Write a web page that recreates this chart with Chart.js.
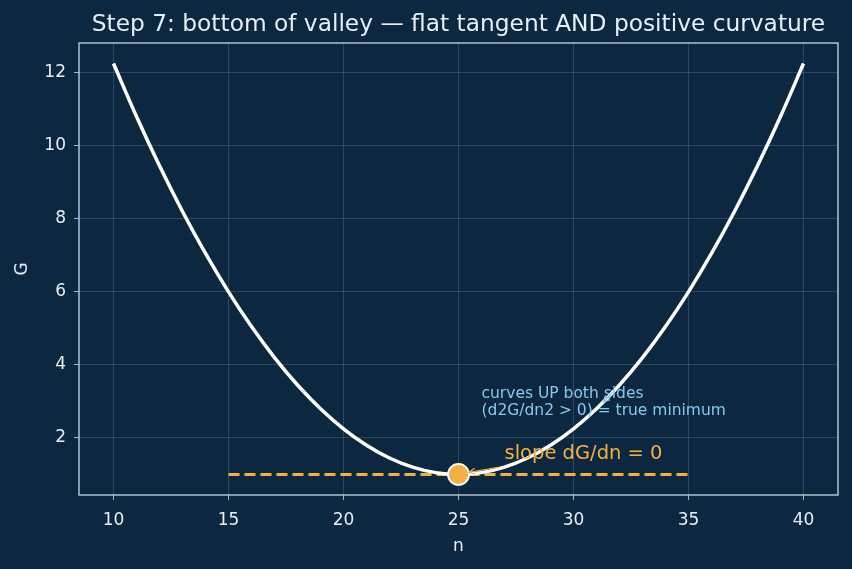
<!DOCTYPE html>
<html>
<head>
<meta charset="utf-8">
<script src="https://cdn.jsdelivr.net/npm/chart.js@4/dist/chart.umd.min.js"></script>
<style>
  html, body { margin: 0; padding: 0; background: #0c2841; }
  #wrap { width: 852px; height: 569px; }
</style>
</head>
<body>
<div id="wrap"><canvas id="valleyChart" width="852" height="569"></canvas></div>
<script>
// values
const nValues = [10, 11, 12, 13, 14, 15, 16, 17, 18, 19, 20, 21, 22, 23, 24, 25,
                 26, 27, 28, 29, 30, 31, 32, 33, 34, 35, 36, 37, 38, 39, 40];
const gValues = [12.25, 10.8, 9.45, 8.2, 7.05, 6.0, 5.05, 4.2, 3.45, 2.8, 2.25, 1.8, 1.45, 1.2, 1.05, 1.0,
                 1.05, 1.2, 1.45, 1.8, 2.25, 2.8, 3.45, 4.2, 5.05, 6.0, 7.05, 8.2, 9.45, 10.8, 12.25];
const tangentN = [15, 35];
const tangentG = [1, 1];
const minN = 25;
const minG = 1;
const xTicks = [10, 15, 20, 25, 30, 35, 40];
const yTicks = [2, 4, 6, 8, 10, 12];

const TITLE = "Step 7: bottom of valley \u2014 flat tangent AND positive curvature";
const FONT = "DejaVu Sans";
const TEXT = '#e8eef4';
const ORANGE = '#f5b043';
const BLUE = '#86c9ee';
const GRID = 'rgba(150, 185, 215, 0.28)';

function arrow(ctx, x1, y1, x2, y2, color) {
  const a = Math.atan2(y2 - y1, x2 - x1);
  ctx.save();
  ctx.strokeStyle = color;
  ctx.lineWidth = 1.2;
  ctx.beginPath();
  ctx.moveTo(x1, y1);
  ctx.lineTo(x2, y2);
  ctx.moveTo(x2 - 7 * Math.cos(a - 0.45), y2 - 7 * Math.sin(a - 0.45));
  ctx.lineTo(x2, y2);
  ctx.lineTo(x2 - 7 * Math.cos(a + 0.45), y2 - 7 * Math.sin(a + 0.45));
  ctx.stroke();
  ctx.restore();
}

// title, frame and the two notes
const decorations = {
  id: 'decorations',
  afterDatasetsDraw(chart) {
    const { ctx, chartArea: ca, scales: { x, y } } = chart;
    ctx.save();
    ctx.fillStyle = TEXT;
    ctx.font = `23.3px "${FONT}"`;
    ctx.textAlign = 'center';
    ctx.textBaseline = 'middle';
    ctx.fillText(TITLE, (ca.left + ca.right) / 2, 25);

    ctx.strokeStyle = '#c9d7e4';
    ctx.lineWidth = 1.3;
    ctx.strokeRect(ca.left, ca.top, ca.right - ca.left, ca.bottom - ca.top);

    arrow(ctx, x.getPixelForValue(31.7), y.getPixelForValue(3.25),
               x.getPixelForValue(31.3), y.getPixelForValue(2.98), BLUE);
    ctx.fillStyle = BLUE;
    ctx.font = `15.5px "${FONT}"`;
    ctx.textAlign = 'left';
    ctx.textBaseline = 'middle';
    const bx = x.getPixelForValue(26), by = y.getPixelForValue(2.74);
    ctx.fillText('curves UP both sides', bx, by - 17);
    ctx.fillText('(d2G/dn2 > 0) = true minimum', bx, by);

    arrow(ctx, x.getPixelForValue(26.8), y.getPixelForValue(1.2),
               x.getPixelForValue(25.45), y.getPixelForValue(1.06), ORANGE);
    ctx.fillStyle = ORANGE;
    ctx.font = `19.5px "${FONT}"`;
    ctx.fillText('slope dG/dn = 0', x.getPixelForValue(27), y.getPixelForValue(1.56));
    ctx.restore();
  }
};

new Chart(document.getElementById('valleyChart').getContext('2d'), {
  type: 'line',
  data: {
    datasets: [
      {
        label: 'minimum',
        data: [{ x: minN, y: minG }],
        showLine: false,
        pointRadius: 10.5,
        pointHoverRadius: 10.5,
        pointBackgroundColor: ORANGE,
        pointBorderColor: '#ffffff',
        pointBorderWidth: 1.8,
        order: 0
      },
      {
        label: 'G(n)',
        data: nValues.map((n, i) => ({ x: n, y: gValues[i] })),
        borderColor: '#ffffff',
        borderWidth: 3.5,
        cubicInterpolationMode: 'monotone',
        pointRadius: 0,
        fill: false,
        order: 1
      },
      {
        label: 'tangent',
        data: tangentN.map((n, i) => ({ x: n, y: tangentG[i] })),
        borderColor: ORANGE,
        borderWidth: 3,
        borderDash: [11, 5],
        pointRadius: 0,
        fill: false,
        order: 2
      }
    ]
  },
  options: {
    responsive: false,
    animation: false,
    layout: { padding: { left: 0, right: 14, top: 43, bottom: 0 } },
    plugins: {
      legend: { display: false },
      tooltip: { enabled: false }
    },
    scales: {
      x: {
        type: 'linear',
        min: 8.5,
        max: 41.5,
        afterBuildTicks: s => { s.ticks = xTicks.map(v => ({ value: v })); },
        afterFit: s => { s.height = 74; },
        grid: { color: GRID, lineWidth: 0.8, tickColor: '#c9d7e4', tickLength: 5 },
        border: { display: false },
        ticks: { color: TEXT, font: { family: FONT, size: 17 }, padding: 10, maxRotation: 0 },
        title: { display: true, text: 'n', color: TEXT, font: { family: FONT, size: 17 }, padding: { top: 4, bottom: 12 } }
      },
      y: {
        type: 'linear',
        min: 0.4375,
        max: 12.8125,
        afterBuildTicks: s => { s.ticks = yTicks.map(v => ({ value: v })); },
        afterFit: s => { s.width = 79; },
        grid: { color: GRID, lineWidth: 0.8, tickColor: '#c9d7e4', tickLength: 5 },
        border: { display: false },
        ticks: { color: TEXT, font: { family: FONT, size: 17 }, padding: 8 },
        title: { display: true, text: 'G', color: TEXT, font: { family: FONT, size: 17 }, padding: { top: 12, bottom: 0 } }
      }
    }
  },
  plugins: [decorations]
});
</script>
</body>
</html>
